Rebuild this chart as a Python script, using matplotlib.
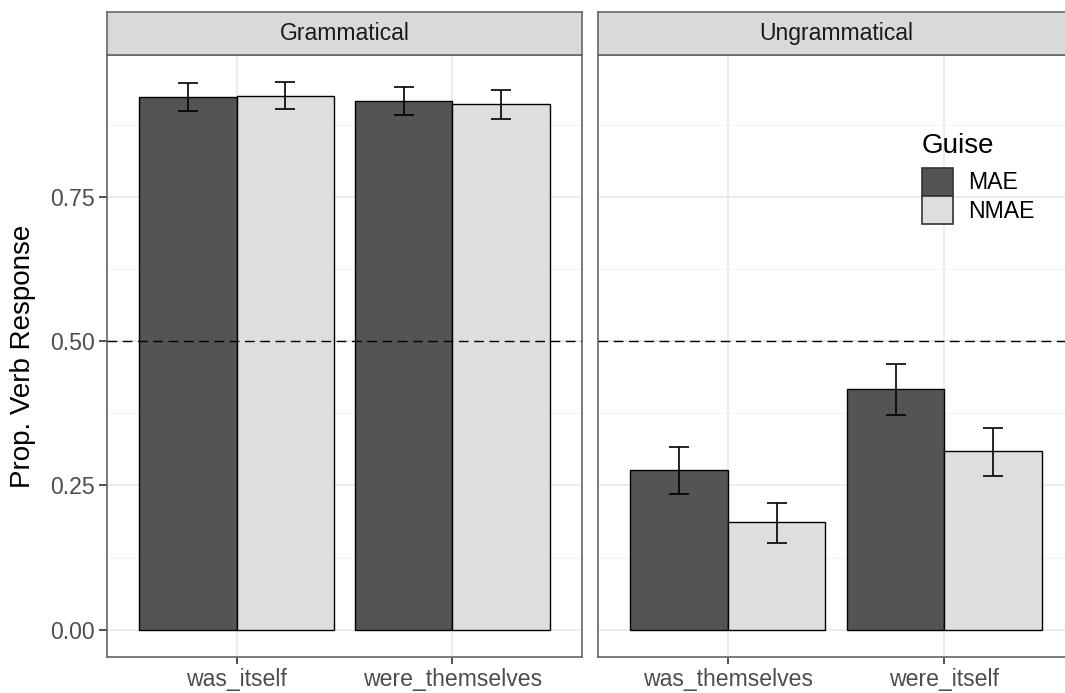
import matplotlib
matplotlib.use("Agg")
from matplotlib import pyplot as plt
from matplotlib.patches import Patch
import numpy as np

plt.rcParams['font.family'] = ['Liberation Sans', 'DejaVu Sans']

# data
panels = ["Grammatical", "Ungrammatical"]
conditions = {
    "Grammatical": ["was_itself", "were_themselves"],
    "Ungrammatical": ["was_themselves", "were_itself"],
}
guises = ["MAE", "NMAE"]
guise_colors = {"MAE": "#545454", "NMAE": "#DEDEDE"}

means = {
    "Grammatical": {"MAE": [0.924, 0.916], "NMAE": [0.926, 0.911]},
    "Ungrammatical": {"MAE": [0.276, 0.417], "NMAE": [0.186, 0.309]},
}
err_lo = {
    "Grammatical": {"MAE": [0.899, 0.892], "NMAE": [0.902, 0.885]},
    "Ungrammatical": {"MAE": [0.236, 0.372], "NMAE": [0.150, 0.267]},
}
err_hi = {
    "Grammatical": {"MAE": [0.948, 0.941], "NMAE": [0.949, 0.936]},
    "Ungrammatical": {"MAE": [0.3165, 0.461], "NMAE": [0.220, 0.350]},
}
yticks = [0.0, 0.25, 0.5, 0.75]
ytick_labels = ["0.00", "0.25", "0.50", "0.75"]

W, H = 1065, 693
fig = plt.figure(figsize=(W / 100, H / 100), dpi=100)

border = "#666666"
grid_major = "#EBEBEB"
tick_fs = 16.6
title_fs = 20

ymax = max(max(v) for p in err_hi.values() for v in p.values())
ylim = (-0.05 * ymax, ymax * 1.05)

# panel extents in pixels (the right panel runs past the image edge)
panel_x = [(107, 582), (598, 1074)]
top_px, bot_px, strip_top = 55, 657, 12

axes = []
for i, panel in enumerate(panels):
    x0, x1 = panel_x[i]
    ax = fig.add_axes([x0 / W, 1 - bot_px / H, (x1 - x0) / W, (bot_px - top_px) / H])
    axes.append(ax)
    xs = np.arange(1, len(conditions[panel]) + 1)
    bw = 0.45
    for j, g in enumerate(guises):
        pos = xs + (j - 0.5) * bw
        ax.bar(pos, means[panel][g], width=bw, color=guise_colors[g],
               edgecolor="black", linewidth=1.0, zorder=3)
        m = np.array(means[panel][g])
        lo = m - np.array(err_lo[panel][g])
        hi = np.array(err_hi[panel][g]) - m
        ax.errorbar(pos, m, yerr=[lo, hi], fmt="none", ecolor="black",
                    elinewidth=1.2, capsize=7.5, capthick=1.2, zorder=4)
    ax.axhline(0.5, color="black", linewidth=1.0, dashes=(7, 4), zorder=5)

    ax.set_xlim(0.4, len(xs) + 0.6)
    ax.set_ylim(*ylim)
    ax.set_xticks(xs)
    ax.set_xticklabels(conditions[panel])
    ax.set_yticks(yticks)
    ax.set_yticks([0.125, 0.375, 0.625, 0.875], minor=True)
    ax.grid(True, which="major", color=grid_major, linewidth=1.3, zorder=0)
    ax.grid(True, which="minor", axis="y", color="#F3F3F3", linewidth=0.8, zorder=0)
    ax.set_axisbelow(True)
    for s in ax.spines.values():
        s.set_color(border)
        s.set_linewidth(1.2)
    ax.tick_params(axis="x", which="major", length=5, width=1.2, color="#333333",
                   labelsize=tick_fs, labelcolor="#4D4D4D", pad=3)
    ax.tick_params(axis="y", which="minor", length=0)
    if i == 0:
        ax.set_yticklabels(ytick_labels)
        ax.tick_params(axis="y", which="major", length=6, width=1.2, color="#333333",
                       labelsize=tick_fs, labelcolor="#4D4D4D", pad=3)
        ax.set_ylabel("Prop. Verb Response", fontsize=title_fs, color="black", labelpad=10)
    else:
        ax.tick_params(axis="y", which="major", length=0, labelleft=False)

    # facet strip
    sax = fig.add_axes([x0 / W, 1 - top_px / H, (x1 - x0) / W, (top_px - strip_top) / H])
    sax.set_xticks([])
    sax.set_yticks([])
    sax.set_facecolor("#D9D9D9")
    for s in sax.spines.values():
        s.set_color(border)
        s.set_linewidth(1.2)
    sax.text(0.5, 0.5, panel, ha="center", va="center", fontsize=tick_fs,
             color="#1A1A1A", transform=sax.transAxes)

handles = [Patch(facecolor=guise_colors[g], edgecolor="#333333", linewidth=1.2, label=g)
           for g in guises]
leg = axes[1].legend(handles=handles, title="Guise", loc="upper left",
                     bbox_to_anchor=(0.656, 0.89), frameon=False, fontsize=tick_fs,
                     title_fontsize=title_fs, handlelength=1.35, handleheight=1.5,
                     labelspacing=0.0, handletextpad=0.65, borderpad=0,
                     alignment="left")
leg._legend_box.sep = 6.5  # gap between title and keys

fig.savefig("out.png", dpi=100)
